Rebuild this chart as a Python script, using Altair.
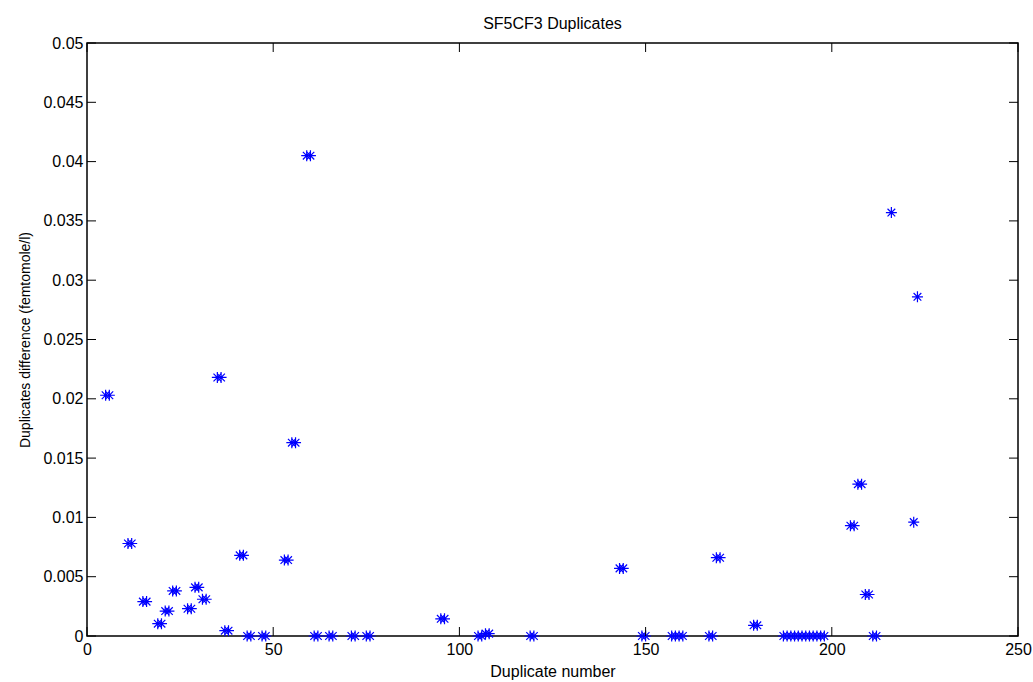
import altair as alt
import pandas as pd

# Duplicate number (each measured pair drawn at n and n+1) and difference
dup_number = [
    5, 6, 11, 12, 15, 16, 19, 20, 21, 22, 23, 24, 27, 28, 29, 30, 31, 32,
    35, 36, 37, 38, 41, 42, 43, 44, 47, 48, 53, 54, 55, 56, 59, 60, 61, 62,
    65, 66, 71, 72, 75, 76, 95, 96, 105, 106, 107, 108, 119, 120,
    143, 144, 149, 150, 157, 158, 159, 160, 167, 168, 169, 170, 179, 180,
    187, 188, 189, 190, 191, 192, 193, 194, 195, 196, 197, 198,
    205, 206, 207, 208, 209, 210, 211, 212, 216, 222, 223,
]
dup_diff = [
    0.0203, 0.0203, 0.0078, 0.0078, 0.0029, 0.0029, 0.00104, 0.00104, 0.0021, 0.0021,
    0.0038, 0.0038, 0.0023, 0.0023, 0.0041, 0.0041, 0.0031, 0.0031,
    0.0218, 0.0218, 0.00045, 0.00045, 0.0068, 0.0068, 0.0, 0.0, 0.0, 0.0,
    0.0064, 0.0064, 0.0163, 0.0163, 0.0405, 0.0405, 0.0, 0.0,
    0.0, 0.0, 0.0, 0.0, 0.0, 0.0, 0.00145, 0.00145, 0.0, 0.0, 0.0002, 0.0002, 0.0, 0.0,
    0.0057, 0.0057, 0.0, 0.0, 0.0, 0.0, 0.0, 0.0, 0.0, 0.0, 0.0066, 0.0066, 0.0009, 0.0009,
    0.0, 0.0, 0.0, 0.0, 0.0, 0.0, 0.0, 0.0, 0.0, 0.0, 0.0, 0.0,
    0.0093, 0.0093, 0.0128, 0.0128, 0.0035, 0.0035, 0.0, 0.0, 0.0357, 0.0096, 0.0286,
]
x_ticks = [0, 50, 100, 150, 200, 250]
y_ticks = [0, 0.005, 0.01, 0.015, 0.02, 0.025, 0.03, 0.035, 0.04, 0.045, 0.05]

W, H = 931, 593
TICK = 9
FONT = "Liberation Sans"

pts = pd.DataFrame({"n": dup_number, "d": dup_diff})
xt = pd.DataFrame({"n": x_ticks})
yt = pd.DataFrame({"d": y_ticks})

xscale = alt.Scale(domain=[0, 250], nice=False, zero=False)
yscale = alt.Scale(domain=[0, 0.05], nice=False, zero=False)

xaxis = alt.Axis(
    values=x_ticks, grid=False, ticks=False, tickSize=0, domain=False,
    labelPadding=5, title="Duplicate number", titlePadding=6,
    labelFontSize=16, titleFontSize=16, titleFontWeight="normal",
    labelFont=FONT, titleFont=FONT, labelColor="black", titleColor="black",
    labelFlush=False)
yaxis = alt.Axis(
    values=y_ticks, grid=False, ticks=False, tickSize=0, domain=False,
    labelPadding=4, title="Duplicates difference (femtomole/l)", titlePadding=10,
    labelFontSize=16, titleFontSize=14, titleFontWeight="normal",
    labelFont=FONT, titleFont=FONT, labelColor="black", titleColor="black",
    labelFlush=False, format="~g")

asterisk = "M-1,0L1,0M0,-1L0,1M-0.7,-0.7L0.7,0.7M-0.7,0.7L0.7,-0.7"

points = alt.Chart(pts).mark_point(
    shape=asterisk, filled=False, stroke="#0000ff", strokeWidth=1.2, size=121, opacity=1
).encode(
    x=alt.X("n:Q", scale=xscale, axis=xaxis),
    y=alt.Y("d:Q", scale=yscale, axis=yaxis),
)

ytick_l = alt.Chart(yt).mark_rule(color="black", strokeWidth=1).encode(
    y=alt.Y("d:Q", scale=yscale, axis=yaxis), x=alt.value(0), x2=alt.value(TICK))
ytick_r = alt.Chart(yt).mark_rule(color="black", strokeWidth=1).encode(
    y=alt.Y("d:Q", scale=yscale, axis=yaxis), x=alt.value(W - TICK), x2=alt.value(W))
xtick_b = alt.Chart(xt).mark_rule(color="black", strokeWidth=1).encode(
    x=alt.X("n:Q", scale=xscale, axis=xaxis), y=alt.value(H), y2=alt.value(H - TICK))
xtick_t = alt.Chart(xt).mark_rule(color="black", strokeWidth=1).encode(
    x=alt.X("n:Q", scale=xscale, axis=xaxis), y=alt.value(0), y2=alt.value(TICK))

chart = alt.layer(points, ytick_l, ytick_r, xtick_b, xtick_t).properties(
    width=W, height=H,
    title=alt.TitleParams("SF5CF3 Duplicates", fontSize=16, fontWeight="normal",
                          font=FONT, color="black", anchor="middle", offset=3),
    autosize=alt.AutoSizeParams(type="none"),
    padding={"left": 87, "top": 43, "right": 15, "bottom": 46},
    background="white",
).configure_view(stroke="black", strokeWidth=1.5)

chart.save("out.html", embed_options={"renderer": "svg", "actions": False})
